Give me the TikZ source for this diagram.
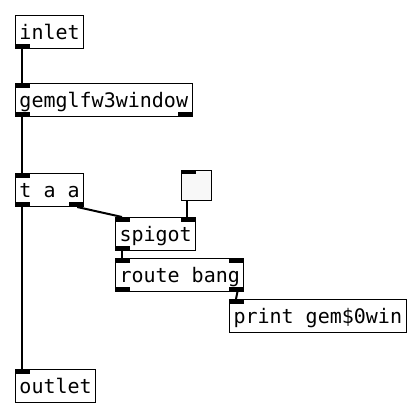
\documentclass[tikz,border=0pt]{standalone}
\usepackage{fontspec}
\setmonofont{DejaVu Sans Mono}
\definecolor{tglfill}{HTML}{F8F8F8}
\tikzset{
    pd-box/.style = {draw=black, fill=white, line width=1pt, rectangle, anchor=north west, minimum height=33pt, inner xsep=4pt, inner ysep=7pt, text height=17pt, text depth=2pt, font=\ttfamily\fontsize{20}{24}\selectfont},
    pd-toggle/.style = {draw=black, fill=tglfill, line width=1pt, rectangle, anchor=north west, minimum size=30pt, inner sep=0pt},
    pd-port/.style = {fill=black},
    pd-wire/.style = {draw=black, line width=2pt},
}

\begin{document}
\begin{tikzpicture}[x=1pt, y=-1pt]
\useasboundingbox (0,0) rectangle (420,420);

% objects
\node[pd-box] (inl) at (15,15) {inlet};
\node[pd-box] (gem) at (15,83) {gemglfw3window};
\node[pd-box] (taa) at (15,173) {t a a};
\node[pd-toggle] (tgl) at (181,170) {};
\node[pd-box] (spig) at (115,217) {spigot};
\node[pd-box] (route) at (115,258) {route bang};
\node[pd-box] (prt) at (229,299) {print gem\$0win};
\node[pd-box] (outl) at (15,369) {outlet};

% inlets and outlets
\fill[pd-port] (inl.south west) rectangle ++(15,-5);
\fill[pd-port] (gem.north west) rectangle ++(15,5);
\fill[pd-port] (gem.south west) rectangle ++(15,-5);
\fill[pd-port] (gem.south east) rectangle ++(-15,-5);
\fill[pd-port] (taa.north west) rectangle ++(15,5);
\fill[pd-port] (taa.south west) rectangle ++(15,-5);
\fill[pd-port] (taa.south east) rectangle ++(-15,-5);
\fill[pd-port] (tgl.north west) rectangle ++(15,4);
\fill[pd-port] (spig.north west) rectangle ++(15,5);
\fill[pd-port] (spig.north east) rectangle ++(-15,5);
\fill[pd-port] (spig.south west) rectangle ++(15,-5);
\fill[pd-port] (route.north west) rectangle ++(15,5);
\fill[pd-port] (route.north east) rectangle ++(-15,5);
\fill[pd-port] (route.south west) rectangle ++(15,-5);
\fill[pd-port] (route.south east) rectangle ++(-15,-5);
\fill[pd-port] (prt.north west) rectangle ++(15,5);
\fill[pd-port] (outl.north west) rectangle ++(15,5);

% connections
\coordinate (tglout) at ([xshift=6pt]tgl.south west);
\draw[pd-wire] ([xshift=7pt]inl.south west) -- ([xshift=7pt]gem.north west);
\draw[pd-wire] ([xshift=7pt]gem.south west) -- ([xshift=7pt]taa.north west);
\draw[pd-wire] ([xshift=7pt]taa.south west) -- ([xshift=7pt]outl.north west);
\draw[pd-wire] ([xshift=-7pt]taa.south east) -- ([xshift=7pt]spig.north west);
\draw[pd-wire] (tglout) -- (tglout |- spig.north);
\draw[pd-wire] ([xshift=7pt]spig.south west) -- ([xshift=7pt]route.north west);
\draw[pd-wire] ([xshift=-7pt]route.south east) -- ([xshift=7pt]prt.north west);
\end{tikzpicture}
\end{document}
